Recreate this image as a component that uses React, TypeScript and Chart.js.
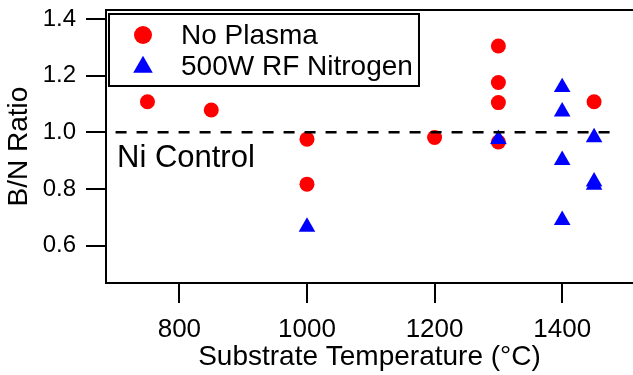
import React, { useEffect, useRef } from 'react';
import { Chart, registerables } from 'chart.js';

Chart.register(...registerables);

// ---- data ----
const noPlasmaTemp = [750, 850, 1000, 1000, 1200, 1300, 1300, 1300, 1300, 1450];
const noPlasmaRatio = [1.108, 1.079, 0.976, 0.817, 0.982, 1.305, 1.176, 1.105, 0.966, 1.108];
const nitrogenTemp = [1000, 1300, 1400, 1400, 1400, 1400, 1450, 1450, 1450];
const nitrogenRatio = [0.666, 0.976, 1.159, 1.073, 0.902, 0.69, 0.982, 0.826, 0.814];
const xTickValues = [800, 1000, 1200, 1400];
const yTickValues = [0.6, 0.8, 1.0, 1.2, 1.4];
const seriesLabels = ['No Plasma', '500W RF Nitrogen'];
const controlRatio = 1.0;
const controlSpan = [700, 1485];
const controlLabel = 'Ni Control';
const xTitle = 'Substrate Temperature (°C)';
const yTitle = 'B/N Ratio';

const FONT = '"Liberation Sans", Arial, Helvetica, sans-serif';
const RED = '#ff0000';
const BLUE = '#0000ff';

function drawTriangle(ctx: CanvasRenderingContext2D, x: number, y: number, r: number) {
  ctx.beginPath();
  let rad = 0;
  ctx.moveTo(x + Math.sin(rad) * r, y - Math.cos(rad) * r);
  rad += (2 * Math.PI) / 3;
  ctx.lineTo(x + Math.sin(rad) * r, y - Math.cos(rad) * r);
  rad += (2 * Math.PI) / 3;
  ctx.lineTo(x + Math.sin(rad) * r, y - Math.cos(rad) * r);
  ctx.closePath();
  ctx.fill();
}

const overlayPlugin = {
  id: 'overlay',
  afterDatasetsDraw(chart: any) {
    const { ctx, chartArea, scales } = chart;
    const xs = scales.x;
    const ys = scales.y;
    ctx.save();
    // dashed control line
    const py = ys.getPixelForValue(controlRatio);
    ctx.strokeStyle = '#000';
    ctx.lineWidth = 2.5;
    ctx.setLineDash([11, 10]);
    ctx.beginPath();
    ctx.moveTo(xs.getPixelForValue(controlSpan[0]), py);
    ctx.lineTo(xs.getPixelForValue(controlSpan[1]), py);
    ctx.stroke();
    ctx.setLineDash([]);

    // top frame line
    ctx.lineWidth = 2;
    ctx.beginPath();
    ctx.moveTo(chartArea.left - 1, chartArea.top);
    ctx.lineTo(chartArea.right, chartArea.top);
    ctx.stroke();

    // Ni Control label
    ctx.fillStyle = '#000';
    ctx.font = `31px ${FONT}`;
    ctx.textBaseline = 'alphabetic';
    ctx.textAlign = 'left';
    ctx.fillText(controlLabel, chartArea.left + 11, py + 34.5);

    // legend box
    const bx = chartArea.left + 3;
    const by = chartArea.top + 4;
    ctx.fillStyle = '#fff';
    ctx.fillRect(bx, by, 310, 72);
    ctx.strokeStyle = '#000';
    ctx.lineWidth = 2;
    ctx.strokeRect(bx, by, 310, 72);

    // legend markers
    ctx.fillStyle = RED;
    ctx.beginPath();
    ctx.arc(bx + 34, by + 21, 9, 0, Math.PI * 2);
    ctx.fill();
    ctx.fillStyle = BLUE;
    drawTriangle(ctx, bx + 34, by + 53, 11.3);

    // legend texts
    ctx.fillStyle = '#000';
    ctx.font = `28px ${FONT}`;
    ctx.fillText(seriesLabels[0], bx + 72, by + 29.5);
    ctx.fillText(seriesLabels[1], bx + 72, by + 60.5);
    ctx.restore();
  },
};

export default function App() {
  const canvasRef = useRef<HTMLCanvasElement | null>(null);

  useEffect(() => {
    const canvas = canvasRef.current;
    if (!canvas) return;
    const chart = new Chart(canvas, {
      type: 'scatter',
      data: {
        datasets: [
          {
            label: seriesLabels[0],
            data: noPlasmaTemp.map((t, i) => ({ x: t, y: noPlasmaRatio[i] })),
            pointStyle: 'circle',
            pointRadius: 7.5,
            pointHoverRadius: 7.5,
            backgroundColor: RED,
            borderColor: RED,
            borderWidth: 0,
            order: 2,
          },
          {
            label: seriesLabels[1],
            data: nitrogenTemp.map((t, i) => ({ x: t, y: nitrogenRatio[i] })),
            pointStyle: 'triangle',
            pointRadius: 9.6,
            pointHoverRadius: 9.6,
            backgroundColor: BLUE,
            borderColor: BLUE,
            borderWidth: 0,
            order: 1,
          },
        ],
      },
      options: {
        responsive: false,
        animation: false,
        events: [],
        layout: { autoPadding: false, padding: { top: 10, right: 0, bottom: 0, left: 0 } },
        plugins: {
          legend: { display: false },
          tooltip: { enabled: false },
          title: { display: false },
        },
        scales: {
          x: {
            type: 'linear',
            position: 'bottom',
            min: 685,
            max: 1511,
            afterBuildTicks: (scale: any) => {
              scale.ticks = xTickValues.map((v) => ({ value: v }));
            },
            afterFit: (scale: any) => {
              scale.height = 92;
              scale.paddingLeft = 0;
              scale.paddingRight = 0;
            },
            ticks: {
              color: '#000',
              font: { family: FONT, size: 26 },
              padding: 11,
              maxRotation: 0,
              autoSkip: false,
              callback: (v: any) => String(v),
            },
            grid: {
              drawOnChartArea: false,
              drawTicks: true,
              tickLength: 20,
              tickColor: '#000',
              tickWidth: 2,
              lineWidth: 2,
              color: '#000',
            },
            border: { display: true, color: '#000', width: 2 },
            title: {
              display: true,
              text: xTitle,
              color: '#000',
              font: { family: FONT, size: 28 },
              padding: { top: 0, bottom: 1 },
            },
          },
          y: {
            type: 'linear',
            position: 'left',
            min: 0.468,
            max: 1.432,
            afterBuildTicks: (scale: any) => {
              scale.ticks = yTickValues.map((v) => ({ value: v }));
            },
            afterFit: (scale: any) => {
              scale.width = 106;
              scale.paddingTop = 0;
              scale.paddingBottom = 0;
            },
            ticks: {
              color: '#000',
              font: { family: FONT, size: 24 },
              padding: 10,
              autoSkip: false,
              callback: (v: any) => Number(v).toFixed(1),
            },
            grid: {
              drawOnChartArea: false,
              drawTicks: true,
              tickLength: 20,
              tickColor: '#000',
              tickWidth: 2,
              lineWidth: 2,
              color: '#000',
            },
            border: { display: true, color: '#000', width: 2 },
            title: {
              display: true,
              text: yTitle,
              color: '#000',
              font: { family: FONT, size: 28 },
              padding: { top: 2, bottom: 0 },
            },
          },
        },
      },
      plugins: [overlayPlugin],
    });
    return () => chart.destroy();
  }, []);

  return (
    <div style={{ position: 'fixed', left: 0, top: 0, width: 633, height: 375, background: '#fff', overflow: 'hidden' }}>
      <canvas ref={canvasRef} width={633} height={375} style={{ display: 'block' }} />
    </div>
  );
}
